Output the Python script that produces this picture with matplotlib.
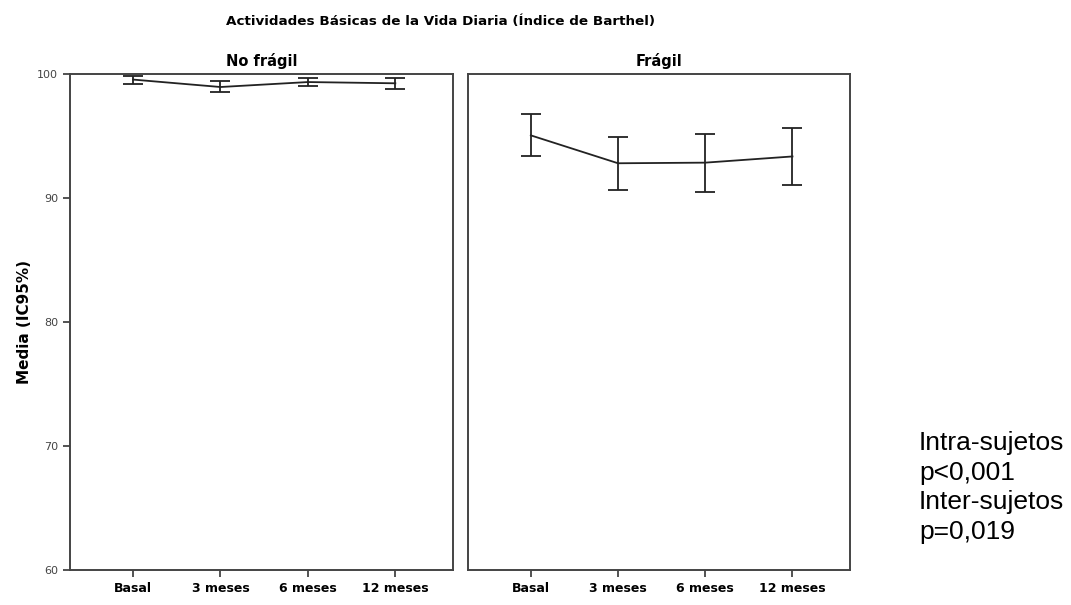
import matplotlib.pyplot as plt
import numpy as np

# Data
tiempos = ['Basal', '3 meses', '6 meses', '12 meses']

nofragil_media = [99.55, 98.95, 99.35, 99.25]
nofragil_inf = [99.2, 98.55, 99.05, 98.8]
nofragil_sup = [99.85, 99.4, 99.65, 99.7]

fragil_media = [95.05, 92.8, 92.85, 93.35]
fragil_inf = [93.4, 90.65, 90.5, 91.05]
fragil_sup = [96.8, 94.9, 95.2, 95.65]

narrow = ['Liberation Sans Narrow', 'DejaVu Sans']

fig = plt.figure(figsize=(10.71, 6.05), dpi=100)
ax1 = fig.add_axes([0.0654, 0.0579, 0.3576, 0.8198])
ax2 = fig.add_axes([0.437, 0.0579, 0.3567, 0.8198])

paneles = [
    (ax1, 'No frágil', nofragil_media, nofragil_inf, nofragil_sup),
    (ax2, 'Frágil', fragil_media, fragil_inf, fragil_sup),
]

x = np.arange(len(tiempos))
for ax, titulo, media, inf, sup in paneles:
    media = np.array(media)
    err = [media - np.array(inf), np.array(sup) - media]
    ax.errorbar(x, media, yerr=err, color='#222222', lw=1.3, elinewidth=1.3,
                capsize=7.5, capthick=1.3)
    ax.set_xlim(-0.72, 3.66)
    ax.set_ylim(60, 100)
    ax.set_xticks(x)
    ax.set_xticklabels(tiempos, fontsize=9, fontweight='bold', family=narrow)
    ax.set_title(titulo, fontsize=10.5, fontweight='bold', family=narrow, pad=6)
    for s in ax.spines.values():
        s.set_color('#444444')
        s.set_linewidth(1.4)
    ax.tick_params(axis='x', direction='out', length=5, width=1.3, color='#444444')

ax1.set_yticks([60, 70, 80, 90, 100])
ax1.tick_params(axis='y', direction='out', length=5, width=1.3, color='#444444',
                labelsize=8, labelcolor='#444444')
ax1.set_ylabel('Media (IC95%)', fontsize=11, fontweight='bold', family=narrow, labelpad=4)
ax2.set_yticks([])

fig.text(0.411, 0.964, 'Actividades Básicas de la Vida Diaria (Índice de Barthel)',
         ha='center', va='center', fontsize=9.7, fontweight='bold', family=narrow)

fig.text(0.858, 0.2876, 'Intra-sujetos\np<0,001\nInter-sujetos\np=0,019',
         ha='left', va='top', fontsize=19, family='Liberation Sans', linespacing=1.3)

fig.savefig('out.png', dpi=100)
